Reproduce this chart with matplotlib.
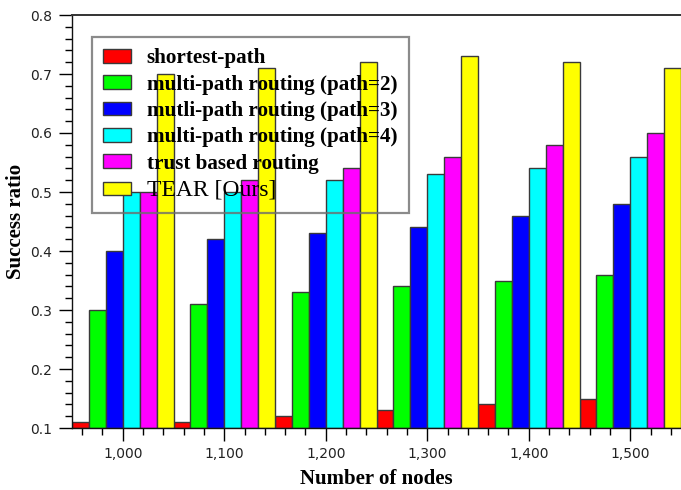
import numpy as np
import matplotlib
matplotlib.use("Agg")
import matplotlib.pyplot as plt
from matplotlib.ticker import MultipleLocator, FuncFormatter

# success ratio per routing scheme, one value per network size
nodes = [1000, 1100, 1200, 1300, 1400, 1500]
shortest_path = [0.11, 0.11, 0.12, 0.13, 0.14, 0.15]
multipath_2 = [0.30, 0.31, 0.33, 0.34, 0.35, 0.36]
multipath_3 = [0.40, 0.42, 0.43, 0.44, 0.46, 0.48]
multipath_4 = [0.50, 0.50, 0.52, 0.53, 0.54, 0.56]
trust_based = [0.50, 0.52, 0.54, 0.56, 0.58, 0.60]
tear = [0.70, 0.71, 0.72, 0.73, 0.72, 0.71]

series_labels = [
    "shortest-path",
    "multi-path routing (path=2)",
    "mutli-path routing (path=3)",
    "multi-path routing (path=4)",
    "trust based routing",
    "TEAR [Ours]",
]
series_values = [shortest_path, multipath_2, multipath_3, multipath_4, trust_based, tear]
colors = ["#ff0000", "#00ff00", "#0000ff", "#00ffff", "#ff00ff", "#ffff00"]

serif = ["Liberation Serif", "DejaVu Serif"]

fig = plt.figure(figsize=(6.81, 4.90), dpi=100)
ax = fig.add_axes([72 / 681, 62 / 490, 609 / 681, 413 / 490])

# six bars fill each 100-node slot with no gap between groups
width = 100 / 6
x = np.array(nodes, dtype=float)
for i, (vals, col, lab) in enumerate(zip(series_values, colors, series_labels)):
    offset = (i - 2.5) * width
    ax.bar(x + offset, np.array(vals) - 0.1, width=width, bottom=0.1,
           color=col, edgecolor="#3a3a3a", linewidth=1.0, label=lab, zorder=2)

ax.set_xlim(950, 1550)
ax.set_ylim(0.1, 0.8)

ax.xaxis.set_major_locator(MultipleLocator(100))
ax.xaxis.set_minor_locator(MultipleLocator(20))
ax.xaxis.set_major_formatter(FuncFormatter(lambda v, p: f"{int(v):,}"))
ax.yaxis.set_major_locator(MultipleLocator(0.1))
ax.yaxis.set_minor_locator(MultipleLocator(0.02))
ax.yaxis.set_major_formatter(FuncFormatter(lambda v, p: f"{v:.1f}"))

ax.tick_params(axis="both", which="major", direction="out", length=9.5, width=1.0,
               labelsize=10, labelcolor="#222222", pad=4)
ax.tick_params(axis="y", which="major", pad=5)
ax.tick_params(axis="both", which="minor", direction="out", length=5, width=1.0)

ax.spines["right"].set_visible(False)
for s in ["left", "bottom"]:
    ax.spines[s].set_linewidth(1.0)
    ax.spines[s].set_color("#111111")
ax.spines["top"].set_linewidth(1.4)
ax.spines["top"].set_color("#333333")

ax.set_xlabel("Number of nodes", fontsize=15, fontweight="bold", family=serif, labelpad=6)
ax.set_ylabel("Success ratio", fontsize=15, fontweight="bold", family=serif, labelpad=3)

leg = ax.legend(loc="upper left", bbox_to_anchor=(0.0323, 0.9475), borderaxespad=0,
                frameon=True, fancybox=False, facecolor="none", edgecolor="#6e6e6e",
                prop={"family": serif, "weight": "bold", "size": 15.2},
                handlelength=1.3, handleheight=0.6, handletextpad=0.75,
                labelspacing=0.3, borderpad=0.55)
leg.get_frame().set_linewidth(1.6)
leg.set_zorder(5)
last = leg.get_texts()[-1]
last.set_fontweight("normal")
last.set_fontsize(17)

fig.savefig("out.png", dpi=100)
